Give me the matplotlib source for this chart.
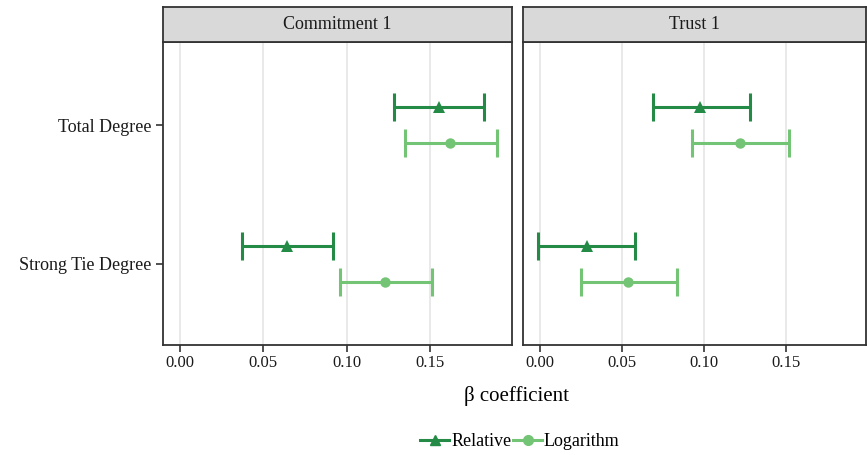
import numpy as np, matplotlib
matplotlib.use("Agg")
import matplotlib.pyplot as plt
from matplotlib.lines import Line2D

plt.rcParams.update({"font.family": ["Liberation Serif", "DejaVu Serif"], "font.size": 12})
DARK, LIGHT, INK = "#238B45", "#74C476", "#333333"

panels = ["Commitment 1", "Trust 1"]
categories = ["Strong Tie Degree", "Total Degree"]
series = ["Relative", "Logarithm"]
# estimates [panel][series][category]
est = {"Commitment 1": {"Relative": [0.064, 0.155], "Logarithm": [0.123, 0.162]},
       "Trust 1": {"Relative": [0.029, 0.098], "Logarithm": [0.054, 0.122]}}
lo = {"Commitment 1": {"Relative": [0.037, 0.128], "Logarithm": [0.096, 0.135]},
      "Trust 1": {"Relative": [-0.001, 0.069], "Logarithm": [0.025, 0.093]}}
hi = {"Commitment 1": {"Relative": [0.092, 0.182], "Logarithm": [0.151, 0.190]},
      "Trust 1": {"Relative": [0.058, 0.128], "Logarithm": [0.084, 0.152]}}
xticks = [0.00, 0.05, 0.10, 0.15]

W, H = 867, 455
fig = plt.figure(figsize=(W/100, H/100), dpi=100)
styles = {"Relative": (DARK, "^", 0.13), "Logarithm": (LIGHT, "o", -0.13)}
lefts = [(163, 512), (523, 866)]
top, bot, stop = 42, 345, 7
for i, (p, (x0, x1)) in enumerate(zip(panels, lefts)):
    ax = fig.add_axes([x0/W, 1-bot/H, (x1-x0)/W, (bot-top)/H])
    for s in series:
        c, m, off = styles[s]
        y = np.arange(1, len(categories)+1) + off
        e = np.array(est[p][s]); l = np.array(lo[p][s]); h = np.array(hi[p][s])
        ax.errorbar(e, y, xerr=[e-l, h-e], fmt="none", ecolor=c, elinewidth=2.2, capsize=10, capthick=2.2, zorder=3)
        ax.plot(e, y, m, color=c, ms=9 if m == "^" else 7.5, mew=0, zorder=4)
    ax.set_xlim(-0.0102, 0.199); ax.set_ylim(0.415, 2.6)
    ax.set_xticks(xticks); ax.set_xticklabels([f"{t:.2f}" for t in xticks], fontsize=12)
    ax.set_yticks([1, 2])
    ax.grid(axis="x", color="#E5E5E5", lw=1.2); ax.set_axisbelow(True)
    ax.tick_params(colors=INK, width=1.2, length=5, labelcolor="#1a1a1a")
    ax.tick_params(axis="x", pad=2)
    if i == 0:
        ax.set_yticklabels(categories, fontsize=13)
    else:
        ax.set_yticklabels([]); ax.tick_params(axis="y", length=0)
    for sp in ax.spines.values():
        sp.set_color(INK); sp.set_linewidth(1.3)
    sa = fig.add_axes([x0/W, 1-top/H, (x1-x0)/W, (top-stop)/H])
    sa.set_facecolor("#D9D9D9"); sa.set_xticks([]); sa.set_yticks([])
    for sp in sa.spines.values():
        sp.set_color(INK); sp.set_linewidth(1.3)
    sa.text(0.5, 0.5, p, ha="center", va="center", fontsize=13, color="#1a1a1a", transform=sa.transAxes)

fig.text(517/W, 1-396/H, "β coefficient", ha="center", va="center", fontsize=15)
handles = [Line2D([0], [0], color=styles[s][0], marker=styles[s][1], lw=2.2, ms=7) for s in series]
fig.legend(handles, series, loc="center", bbox_to_anchor=(520/W, 1-442/H), ncol=2, frameon=False,
           fontsize=13, handlelength=1.6, handletextpad=0.1, columnspacing=0.1)
fig.savefig("out.png", dpi=100)
